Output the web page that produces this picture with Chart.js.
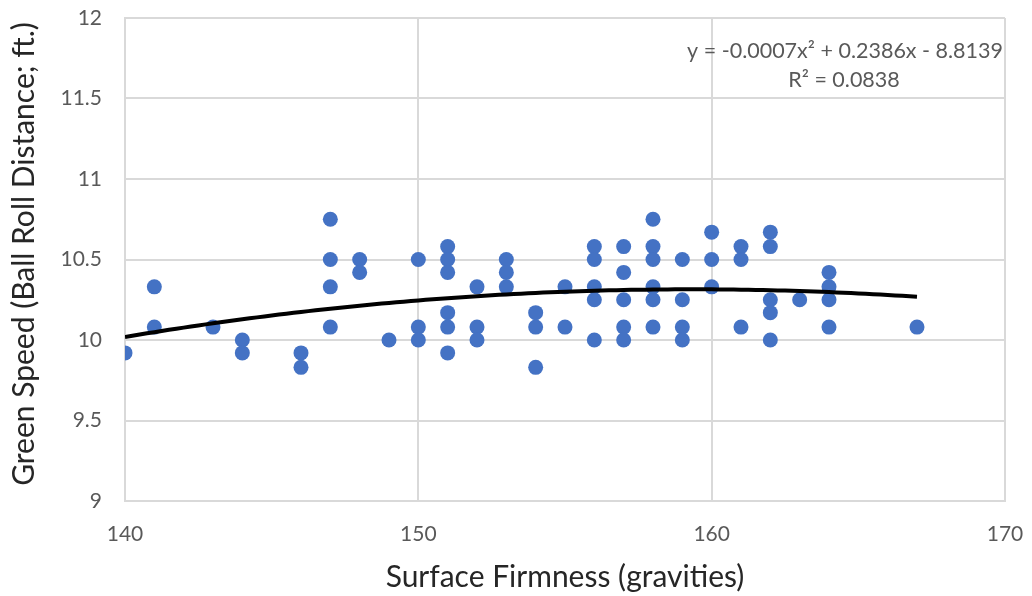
<!DOCTYPE html>
<html>
<head>
<meta charset="utf-8">
<script src="https://cdn.jsdelivr.net/npm/chart.js@4/dist/chart.umd.min.js"></script>
<style>
  html, body { margin: 0; padding: 0; background: #fff; }
  #wrap { width: 1032px; height: 596px; position: relative; }
</style>
</head>
<body>
<div id="wrap"><canvas id="c" width="1032" height="596"></canvas></div>
<script>
// Surface firmness (gravities) readings and matching green speeds (ft.)
const firmness = [
  140,
  141, 141,
  143,
  144, 144,
  146, 146,
  147, 147, 147, 147,
  148, 148,
  149,
  150, 150, 150,
  151, 151, 151, 151, 151, 151,
  152, 152, 152,
  153, 153, 153,
  154, 154, 154,
  155, 155,
  156, 156, 156, 156, 156,
  157, 157, 157, 157, 157,
  158, 158, 158, 158, 158, 158,
  159, 159, 159, 159,
  160, 160, 160,
  161, 161, 161,
  162, 162, 162, 162, 162,
  163,
  164, 164, 164, 164,
  167
];
const greenSpeed = [
  9.92,
  10.33, 10.08,
  10.08,
  10.0, 9.92,
  9.92, 9.83,
  10.75, 10.5, 10.33, 10.08,
  10.5, 10.42,
  10.0,
  10.5, 10.08, 10.0,
  10.58, 10.5, 10.42, 10.17, 10.08, 9.92,
  10.33, 10.08, 10.0,
  10.5, 10.42, 10.33,
  10.17, 10.08, 9.83,
  10.33, 10.08,
  10.58, 10.5, 10.33, 10.25, 10.0,
  10.58, 10.42, 10.25, 10.08, 10.0,
  10.75, 10.58, 10.5, 10.33, 10.25, 10.08,
  10.5, 10.25, 10.08, 10.0,
  10.67, 10.5, 10.33,
  10.58, 10.5, 10.08,
  10.67, 10.58, 10.25, 10.17, 10.0,
  10.25,
  10.42, 10.33, 10.25, 10.08,
  10.08
];
const xTicks = [140, 150, 160, 170];
const yTicks = [9, 9.5, 10, 10.5, 11, 11.5, 12];
const equationText = 'y = -0.0007x\u00B2 + 0.2386x - 8.8139';
const rSquaredText = 'R\u00B2 = 0.0838';
const xTitle = 'Surface Firmness (gravities)';
const yTitle = 'Green Speed (Ball Roll Distance; ft.)';

// Second-order polynomial least-squares fit through the readings
function quadFit(xs, ys) {
  const n = xs.length, m = xs.reduce((a, b) => a + b, 0) / n;
  let S = [0, 0, 0, 0, 0], T = [0, 0, 0];
  for (let i = 0; i < n; i++) {
    const u = xs[i] - m;
    for (let k = 0; k < 5; k++) S[k] += Math.pow(u, k);
    for (let k = 0; k < 3; k++) T[k] += ys[i] * Math.pow(u, k);
  }
  const A = [[S[0], S[1], S[2]], [S[1], S[2], S[3]], [S[2], S[3], S[4]]];
  const det = M => M[0][0]*(M[1][1]*M[2][2]-M[1][2]*M[2][1]) - M[0][1]*(M[1][0]*M[2][2]-M[1][2]*M[2][0]) + M[0][2]*(M[1][0]*M[2][1]-M[1][1]*M[2][0]);
  const D = det(A);
  const c = [0, 1, 2].map(j => det(A.map((row, r) => row.map((v, k) => k === j ? T[r] : v))) / D);
  return x => c[0] + c[1] * (x - m) + c[2] * (x - m) * (x - m);
}
const fit = quadFit(firmness, greenSpeed);
const xMin = Math.min(...firmness), xMax = Math.max(...firmness);
const trend = [];
for (let i = 0; i <= 108; i++) {
  const x = xMin + (xMax - xMin) * i / 108;
  trend.push({ x, y: fit(x) });
}

const FONT = 'Lato, "Open Sans", sans-serif';
const TXT = '#595959';

// Trendline equation and axis titles
const annotations = {
  id: 'annotations',
  afterDraw(chart) {
    const ctx = chart.ctx;
    ctx.save();
    ctx.fillStyle = TXT;
    ctx.font = '21.5px ' + FONT;
    ctx.textBaseline = 'alphabetic';
    ctx.textAlign = 'right';
    ctx.fillText(equationText, 1003, 58);
    ctx.textAlign = 'center';
    ctx.fillText(rSquaredText, 844, 87);
    ctx.fillStyle = '#262626';
    ctx.font = '30px ' + FONT;
    ctx.fillText(xTitle, 565, 587);
    ctx.translate(34, 254);
    ctx.rotate(-Math.PI / 2);
    ctx.fillText(yTitle, 0, 0);
    ctx.restore();
  }
};

new Chart(document.getElementById('c'), {
  type: 'scatter',
  data: {
    datasets: [
      {
        type: 'line',
        data: trend,
        borderColor: '#000',
        borderWidth: 4,
        pointRadius: 0,
        fill: false,
        tension: 0,
        order: 0
      },
      {
        data: firmness.map((x, i) => ({ x, y: greenSpeed[i] })),
        backgroundColor: '#4472C4',
        borderColor: '#4472C4',
        pointRadius: 7.5,
        pointBorderWidth: 0,
        order: 1
      }
    ]
  },
  options: {
    responsive: false,
    animation: false,
    events: [],
    layout: { padding: { left: 0, top: 18, right: 27, bottom: 0 } },
    plugins: { legend: { display: false }, tooltip: { enabled: false } },
    scales: {
      x: {
        type: 'linear',
        min: 140, max: 170,
        afterBuildTicks: s => { s.ticks = xTicks.map(v => ({ value: v })); },
        afterFit: s => { s.height = 95; s.paddingLeft = 0; s.paddingRight = 0; },
        grid: { color: '#d9d9d9', lineWidth: 2, drawTicks: false },
        border: { color: '#d9d9d9', width: 2 },
        ticks: { color: TXT, font: { family: FONT, size: 21 }, padding: 21, maxRotation: 0,
                 callback: v => String(v) }
      },
      y: {
        type: 'linear',
        min: 9, max: 12,
        afterBuildTicks: s => { s.ticks = yTicks.map(v => ({ value: v })); },
        afterFit: s => { s.width = 125; s.paddingTop = 0; s.paddingBottom = 0; },
        grid: { color: '#d9d9d9', lineWidth: 2, drawTicks: false },
        border: { color: '#d9d9d9', width: 2 },
        ticks: { color: TXT, font: { family: FONT, size: 21 }, padding: 23,
                 callback: v => String(v) }
      }
    }
  },
  plugins: [annotations]
});
</script>
</body>
</html>
